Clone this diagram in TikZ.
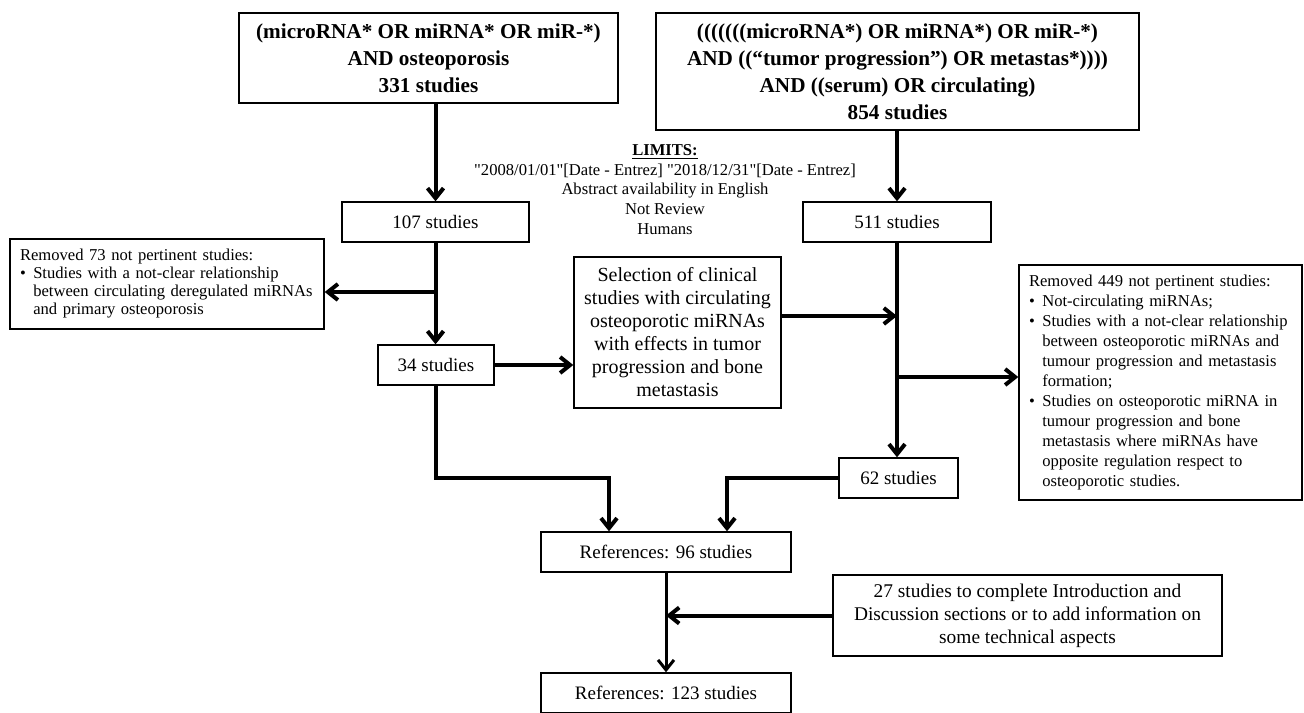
\documentclass[tikz,border=0pt]{standalone}
\usepackage{fontspec}
\setmainfont{Liberation Serif}
\usetikzlibrary{arrows.meta,positioning,calc}

\newcommand{\bul}{\makebox[0.8em][l]{\textbullet}}
\newcommand{\ind}{\hspace*{0.8em}}
\newcommand{\dq}{\textquotedbl}

\begin{document}
\begin{tikzpicture}[
    x=0.5pt,y=-0.5pt,
    box/.style={draw,line width=0.7pt,inner sep=2pt,align=center},
    qbox/.style={box,font=\fontsize{10.6}{13.5}\selectfont\bfseries},
    nbox/.style={box,font=\fontsize{9.5}{11.5}\selectfont,minimum height=20pt},
    rbox/.style={box,align=left,inner sep=5pt},
    arr/.style={-{Straight Barb[length=5pt,width=8pt]},line width=2pt}
  ]
  \useasboundingbox (0,0) rectangle (1304,712);

  % search queries
  \node[qbox,minimum width=189.5pt,minimum height=45pt] (query1) at (428.5,58)
    {(microRNA* OR miRNA* OR miR-*)\\AND osteoporosis\\331 studies};
  \node[qbox,minimum width=241.5pt,minimum height=58.5pt] (query2) at (897.5,71.5)
    {(((((((microRNA*) OR miRNA*) OR miR-*)\\AND ((“tumor progression”) OR metastas*))))\\AND ((serum) OR circulating)\\854 studies};
  \node[font=\fontsize{8.3}{9.8}\selectfont,align=center] (limits) at (665,189.5)
    {\textbf{\underline{LIMITS:}}\\\dq2008/01/01\dq[Date - Entrez] \dq2018/12/31\dq[Date - Entrez]\\Abstract availability in English\\Not Review\\Humans};

  % first screening
  \node[nbox,minimum width=93.5pt] (s107) at (435.5,222) {107 studies};
  \node[nbox,minimum width=94pt] (s511) at (897,222) {511 studies};
  \node[rbox,font=\fontsize{8.3}{9}\selectfont,text width=147pt,minimum height=45pt] (rem73) at (167,284)
    {Removed 73 not pertinent studies:\\
     \bul Studies with a not-clear relationship\\
     \ind between circulating deregulated miRNAs\\
     \ind and primary osteoporosis};
  \node[nbox,minimum width=58pt] (s34) at (436,365) {34 studies};
  \node[box,font=\fontsize{10}{11.5}\selectfont,minimum width=103.5pt,minimum height=75.5pt] (sel) at (677.5,332.5)
    {Selection of clinical\\studies with circulating\\osteoporotic miRNAs\\with effects in tumor\\progression and bone\\metastasis};
  \node[rbox,font=\fontsize{8.3}{10}\selectfont,text width=131.5pt,minimum height=115.5pt] (rem449) at (1160.5,382.5)
    {Removed 449 not pertinent studies:\\
     \bul Not-circulating miRNAs;\\
     \bul Studies with a not-clear relationship\\
     \ind between osteoporotic miRNAs and\\
     \ind tumour progression and metastasis\\
     \ind formation;\\
     \bul Studies on osteoporotic miRNA in\\
     \ind tumour progression and bone\\
     \ind metastasis where miRNAs have\\
     \ind opposite regulation respect to\\
     \ind osteoporotic studies.};
  \node[nbox,minimum width=59.5pt] (s62) at (898.5,478) {62 studies};

  % references
  \node[nbox,minimum width=125pt] (ref96) at (666,552) {References: 96 studies};
  \node[box,font=\fontsize{9.7}{11.5}\selectfont,minimum width=194.5pt,minimum height=40.5pt] (add27) at (1027.5,615.5)
    {27 studies to complete Introduction and\\Discussion sections or to add information on\\some technical aspects};
  \node[nbox,minimum width=125pt] (ref123) at (666,693) {References: 123 studies};

  \coordinate (j73) at (435.5,292);
  \coordinate (jsel) at (897,316);
  \coordinate (j449) at (897,377);
  \coordinate (b34) at (609,478);
  \coordinate (b62) at (727,478);

  \draw[arr] (query1.south -| s107) -- (s107.north);
  \draw[arr] (query2.south -| s511) -- (s511.north);
  \draw[arr] (s107.south) -- (s107.south |- s34.north);
  \draw[arr] (j73) -- (j73 -| rem73.east);
  \draw[arr] (s34.east) -- (s34.east -| sel.west);
  \draw[arr] (sel.east |- jsel) -- (jsel);
  \draw[arr] (s511.south) -- (s511.south |- s62.north);
  \draw[arr] (j449) -- (j449 -| rem449.west);
  \draw[arr] (s34.south) |- (b34) -- (b34 |- ref96.north);
  \draw[arr] (s62.west) -- (b62) -- (b62 |- ref96.north);
  \draw[arr] (add27.west) -- (add27.west -| ref96.south);
  \draw[arr,line width=1.5pt] (ref96.south) -- (ref123.north);
\end{tikzpicture}
\end{document}
